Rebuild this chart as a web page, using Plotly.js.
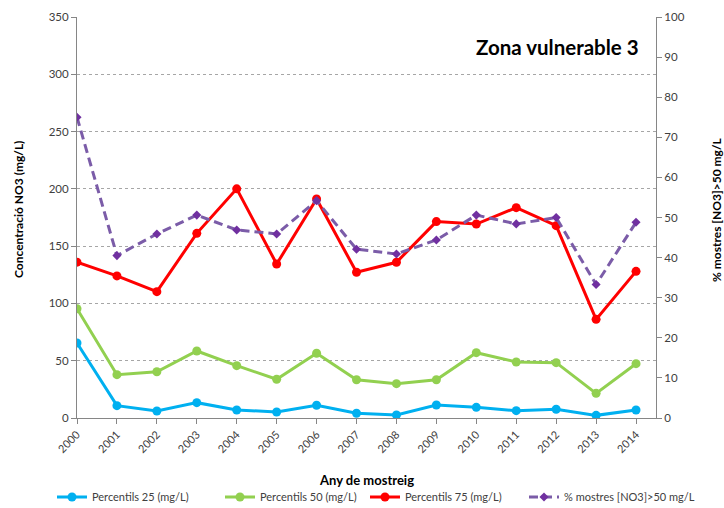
<!DOCTYPE html>
<html>
<head>
<meta charset="utf-8">
<script src="https://cdn.plot.ly/plotly-3.0.1.min.js"></script>
<style>html,body{margin:0;padding:0;background:#fff;}#chart{width:724px;height:508px;}</style>
</head>
<body>
<div id="chart"></div>
<script>
const years = ["2000","2001","2002","2003","2004","2005","2006","2007","2008","2009","2010","2011","2012","2013","2014"];
const p25 = [65.5, 10.8, 6.1, 13.4, 7.0, 5.2, 11.1, 4.1, 2.6, 11.3, 9.3, 6.4, 7.6, 2.3, 7.0];
const p50 = [95.4, 37.8, 40.4, 58.5, 45.7, 33.8, 56.5, 33.4, 30.0, 33.4, 57.0, 48.9, 48.3, 21.5, 47.4];
const p75 = [136, 124, 110.3, 161.2, 200, 134.4, 191.1, 127.2, 135.9, 171.4, 169.3, 183.6, 167.9, 86.1, 128];
const pctOver50 = [75.0, 40.5, 45.9, 50.6, 46.9, 45.9, 54.2, 42.1, 40.9, 44.4, 50.6, 48.4, 50.0, 33.3, 48.8];

const FONT = "Lato, 'Open Sans', sans-serif";
const x = years.map((y, i) => i);

const traces = [
  {x: x, y: p25, name: "Percentils 25 (mg/L)", type: "scatter", mode: "lines+markers", legend: "legend",
   line: {color: "#00B0F0", width: 3}, marker: {color: "#00B0F0", size: 9, symbol: "circle"}},
  {x: x, y: p50, name: "Percentils 50 (mg/L)", type: "scatter", mode: "lines+markers", legend: "legend2",
   line: {color: "#92D050", width: 3}, marker: {color: "#92D050", size: 9, symbol: "circle"}},
  {x: x, y: p75, name: "Percentils 75 (mg/L)", type: "scatter", mode: "lines+markers", legend: "legend3",
   line: {color: "#FF0000", width: 3}, marker: {color: "#FF0000", size: 9, symbol: "circle"}},
  {x: x, y: pctOver50, name: "% mostres [NO3]>50 mg/L", type: "scatter", mode: "lines+markers", yaxis: "y2", legend: "legend4",
   line: {color: "#7B5CA8", width: 3, dash: "9px,5px"}, marker: {color: "#7030A0", size: 7, symbol: "diamond"}}
];

function leg(px) {
  return {orientation: "h", x: (px - 4 - 77) / 579, xanchor: "left", y: -0.197, yanchor: "middle",
          font: {family: FONT, size: 11, color: "#404040"}, itemwidth: 30, bgcolor: "rgba(0,0,0,0)"};
}

const layout = {
  width: 724, height: 508,
  margin: {l: 77, r: 68, t: 17, b: 90, autoexpand: false},
  paper_bgcolor: "#fff", plot_bgcolor: "#fff",
  font: {family: FONT, color: "#404040", size: 11},
  showlegend: true,
  legend: leg(56), legend2: leg(224), legend3: leg(369), legend4: leg(528),
  xaxis: {
    range: [0, 14.5], tickmode: "array", tickvals: x, ticktext: years, tickangle: -45, automargin: false,
    showgrid: false, zeroline: false, showline: true, linecolor: "#868686", linewidth: 1,
    ticks: "outside", ticklen: 5, tickcolor: "#868686", tickfont: {size: 11, color: "#404040"}
  },
  yaxis: {
    range: [0, 350], dtick: 50, tick0: 0, showgrid: true, gridcolor: "#A6A6A6", griddash: "dot", gridwidth: 1,
    zeroline: false, showline: true, linecolor: "#868686", linewidth: 1, automargin: false,
    ticks: "outside", ticklen: 5, tickcolor: "#868686", tickfont: {size: 11.5, color: "#404040"}
  },
  yaxis2: {
    range: [0, 100], dtick: 10, tick0: 0, overlaying: "y", side: "right", showgrid: false,
    zeroline: false, showline: true, linecolor: "#868686", linewidth: 1, automargin: false,
    ticks: "outside", ticklen: 5, tickcolor: "#868686", tickfont: {size: 11.5, color: "#404040"}
  },
  annotations: [
    {text: "<b>Zona vulnerable 3</b>", xref: "paper", yref: "paper", x: (641 - 77) / 579, y: (418 - 47) / 401,
     xanchor: "right", yanchor: "middle", showarrow: false, font: {family: FONT, size: 20.5, color: "#000"}},
    {text: "<b>Concentració NO3 (mg/L)</b>", xref: "paper", yref: "paper", x: (18 - 77) / 579, y: (418 - 210) / 401,
     xanchor: "center", yanchor: "middle", textangle: -90, showarrow: false, font: {family: FONT, size: 12, color: "#000"}},
    {text: "<b>% mostres [NO3]>50 mg/L</b>", xref: "paper", yref: "paper", x: (716 - 77) / 579, y: (418 - 210) / 401,
     xanchor: "center", yanchor: "middle", textangle: -90, showarrow: false, font: {family: FONT, size: 12, color: "#000"}},
    {text: "<b>Any de mostreig</b>", xref: "paper", yref: "paper", x: (366 - 77) / 579, y: (418 - 480) / 401,
     xanchor: "center", yanchor: "middle", showarrow: false, font: {family: FONT, size: 13, color: "#000"}}
  ]
};

Plotly.newPlot("chart", traces, layout, {displayModeBar: false, staticPlot: true});
</script>
</body>
</html>
